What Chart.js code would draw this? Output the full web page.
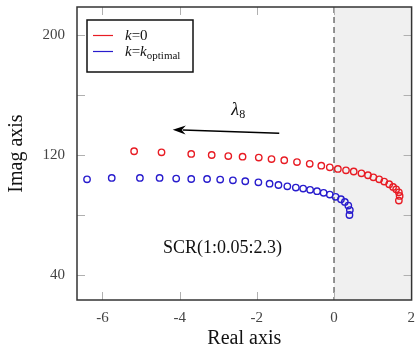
<!DOCTYPE html>
<html><head><meta charset="utf-8">
<script src="https://cdn.jsdelivr.net/npm/chart.js@4/dist/chart.umd.min.js"></script>
<style>html,body{margin:0;padding:0;background:#fff}#wrap{width:417px;height:351px;position:relative}</style>
</head><body><div id="wrap"><canvas id="c"></canvas></div>
<script>
// Eigenvalue lambda_8 trajectories, SCR from 1 to 2.3 step 0.05
const redReal  = [-5.18,-4.47,-3.70,-3.17,-2.74,-2.37,-1.95,-1.62,-1.29,-0.96,-0.63,-0.33,-0.11,0.10,0.31,0.51,0.71,0.88,1.02,1.17,1.30,1.43,1.53,1.61,1.68,1.70,1.68];
const redImag  = [122.5,121.8,120.7,120.0,119.3,118.9,118.3,117.3,116.5,115.3,114.1,112.9,111.8,110.7,109.8,109.0,107.8,106.5,105.1,103.8,102.3,100.5,98.7,97.1,95.1,92.7,89.6];
const blueReal = [-6.40,-5.76,-5.03,-4.52,-4.09,-3.70,-3.29,-2.95,-2.62,-2.30,-1.96,-1.67,-1.44,-1.21,-0.99,-0.80,-0.62,-0.44,-0.27,-0.11,0.04,0.18,0.28,0.37,0.41,0.40];
const blueImag = [103.8,104.7,104.7,104.7,104.3,104.0,104.0,103.6,103.1,102.5,101.8,100.9,100.0,99.1,98.3,97.6,96.8,95.9,94.8,93.6,92.1,90.5,88.7,86.3,83.3,80.0];
const xTicks = [-6,-4,-2,0,2];
const yTicks = [40,80,120,160,200];
const yLabelTicks = [40,120,200];
const xRange = [-6.66, 2.01];
const yRange = [23.3, 218.7];

const RED = 'rgb(232,28,36)';
const BLUE = 'rgb(40,28,205)';
const SERIF = '"Liberation Serif","DejaVu Serif",serif';

function pts(xs, ys){ return xs.map((v,i)=>({x:v, y:ys[i]})); }

const deco = {
  id:'deco',
  beforeDatasetsDraw(chart){
    const {ctx, chartArea:a, scales:{x}} = chart;
    const x0 = x.getPixelForValue(0);
    ctx.save();
    ctx.fillStyle = '#f0f0f0';
    ctx.fillRect(x0, a.top, a.right - x0, a.bottom - a.top);
    ctx.strokeStyle = '#707070'; ctx.lineWidth = 1.5; ctx.setLineDash([6,4]);
    ctx.beginPath(); ctx.moveTo(x0, a.top); ctx.lineTo(x0, a.bottom); ctx.stroke();
    ctx.restore();
  },
  afterDraw(chart){
    const {ctx, chartArea:a, scales:{x, y}} = chart;
    ctx.save();
    // inner ticks
    ctx.strokeStyle = '#b0b0b0'; ctx.lineWidth = 1;
    ctx.beginPath();
    xTicks.forEach(v=>{
      const px = Math.round(x.getPixelForValue(v)) + 0.5;
      if (px > a.right - 2) return;
      ctx.moveTo(px, a.bottom); ctx.lineTo(px, a.bottom - 8);
      ctx.moveTo(px, a.top); ctx.lineTo(px, a.top + 8);
    });
    yTicks.forEach(v=>{
      const py = Math.round(y.getPixelForValue(v)) + 0.5;
      ctx.moveTo(a.left, py); ctx.lineTo(a.left + 8, py);
      ctx.moveTo(a.right, py); ctx.lineTo(a.right - 8, py);
    });
    ctx.stroke();
    // frame
    ctx.strokeStyle = '#333'; ctx.lineWidth = 1.5;
    ctx.strokeRect(a.left, a.top, a.right - a.left, a.bottom - a.top);

    // legend
    const lx = a.left + 10, ly = a.top + 13, lw = 106, lh = 52;
    ctx.fillStyle = '#fff'; ctx.fillRect(lx, ly, lw, lh);
    ctx.strokeStyle = '#111'; ctx.lineWidth = 1.5; ctx.strokeRect(lx, ly, lw, lh);
    ctx.lineWidth = 1.2;
    [[RED, ly + 15],[BLUE, ly + 31]].forEach(([c, yy])=>{
      ctx.strokeStyle = c; ctx.beginPath(); ctx.moveTo(lx + 6, yy + 0.5); ctx.lineTo(lx + 26, yy + 0.5); ctx.stroke();
    });
    ctx.fillStyle = '#111'; ctx.textBaseline = 'alphabetic'; ctx.textAlign = 'left';
    let tx = lx + 38, ty = ly + 20;
    ctx.font = 'italic 15px ' + SERIF; ctx.fillText('k', tx, ty); tx += ctx.measureText('k').width;
    ctx.font = '15px ' + SERIF; ctx.fillText('=0', tx, ty);
    tx = lx + 38; ty = ly + 36;
    ctx.font = 'italic 15px ' + SERIF; ctx.fillText('k', tx, ty); tx += ctx.measureText('k').width;
    ctx.font = '15px ' + SERIF; ctx.fillText('=', tx, ty); tx += ctx.measureText('=').width;
    ctx.font = 'italic 15px ' + SERIF; ctx.fillText('k', tx, ty); tx += ctx.measureText('k').width;
    ctx.font = '11px ' + SERIF; ctx.fillText('optimal', tx, ty + 3);

    // arrow
    const ax1 = x.getPixelForValue(-1.42), ay1 = y.getPixelForValue(134.5);
    const ax2 = x.getPixelForValue(-4.18), ay2 = y.getPixelForValue(136.9);
    const ang = Math.atan2(ay2 - ay1, ax2 - ax1);
    ctx.strokeStyle = '#000'; ctx.lineWidth = 1.3;
    ctx.beginPath(); ctx.moveTo(ax1, ay1); ctx.lineTo(ax2 - 10*Math.cos(ang), ay2 - 10*Math.sin(ang)); ctx.stroke();
    ctx.fillStyle = '#000';
    ctx.beginPath();
    ctx.moveTo(ax2, ay2);
    ctx.lineTo(ax2 - 13*Math.cos(ang) + 4.5*Math.sin(ang), ay2 - 13*Math.sin(ang) - 4.5*Math.cos(ang));
    ctx.lineTo(ax2 - 9*Math.cos(ang), ay2 - 9*Math.sin(ang));
    ctx.lineTo(ax2 - 13*Math.cos(ang) - 4.5*Math.sin(ang), ay2 - 13*Math.sin(ang) + 4.5*Math.cos(ang));
    ctx.closePath(); ctx.fill();

    // lambda_8 label
    let lxp = x.getPixelForValue(-2.66), lyp = y.getPixelForValue(146.5);
    ctx.fillStyle = '#111';
    ctx.font = 'italic 18px ' + SERIF; ctx.fillText('λ', lxp, lyp);
    lxp += ctx.measureText('λ').width;
    ctx.font = '12px ' + SERIF; ctx.fillText('8', lxp, lyp + 3);

    // SCR label
    ctx.font = '18px ' + SERIF; ctx.textAlign = 'center'; ctx.textBaseline = 'middle';
    ctx.fillText('SCR(1:0.05:2.3)', x.getPixelForValue(-2.89), y.getPixelForValue(57.8));
    ctx.restore();
  }
};

new Chart(document.getElementById('c'), {
  type: 'scatter',
  data: {
    datasets: [
      { label: 'k=0', data: pts(redReal, redImag), borderColor: RED, backgroundColor: 'rgba(0,0,0,0)', pointRadius: 3.2, pointBorderWidth: 1.4, showLine: false },
      { label: 'k=k_optimal', data: pts(blueReal, blueImag), borderColor: BLUE, backgroundColor: 'rgba(0,0,0,0)', pointRadius: 3.2, pointBorderWidth: 1.4, showLine: false }
    ]
  },
  options: {
    responsive: true, maintainAspectRatio: false, animation: false,
    layout: { padding: { top: 7, right: 4, left: 0, bottom: 0 } },
    plugins: { legend: { display: false }, tooltip: { enabled: false } },
    scales: {
      x: {
        type: 'linear', min: xRange[0], max: xRange[1],
        afterBuildTicks: s => { s.ticks = xTicks.map(v => ({ value: v })); },
        afterFit: s => { s.height = 51; s.paddingLeft = 0; s.paddingRight = 0; },
        grid: { display: false, drawTicks: false },
        border: { display: false },
        ticks: { padding: 9, color: '#444', font: { family: SERIF, size: 15 }, callback: v => String(v), maxRotation: 0 },
        title: { display: true, text: 'Real axis', color: '#111', font: { family: SERIF, size: 20 }, padding: { top: 0, bottom: 0 } }
      },
      y: {
        type: 'linear', min: yRange[0], max: yRange[1],
        afterBuildTicks: s => { s.ticks = yTicks.map(v => ({ value: v })); },
        afterFit: s => { s.width = 77; s.paddingTop = 0; s.paddingBottom = 0; },
        grid: { display: false, drawTicks: false },
        border: { display: false },
        ticks: { padding: 12, color: '#444', font: { family: SERIF, size: 15 }, callback: v => yLabelTicks.includes(v) ? String(v) : '' },
        title: { display: true, text: 'Imag axis', color: '#111', font: { family: SERIF, size: 20 }, padding: { top: 5, bottom: 0 } }
      }
    }
  },
  plugins: [deco]
});
</script>
</body></html>
